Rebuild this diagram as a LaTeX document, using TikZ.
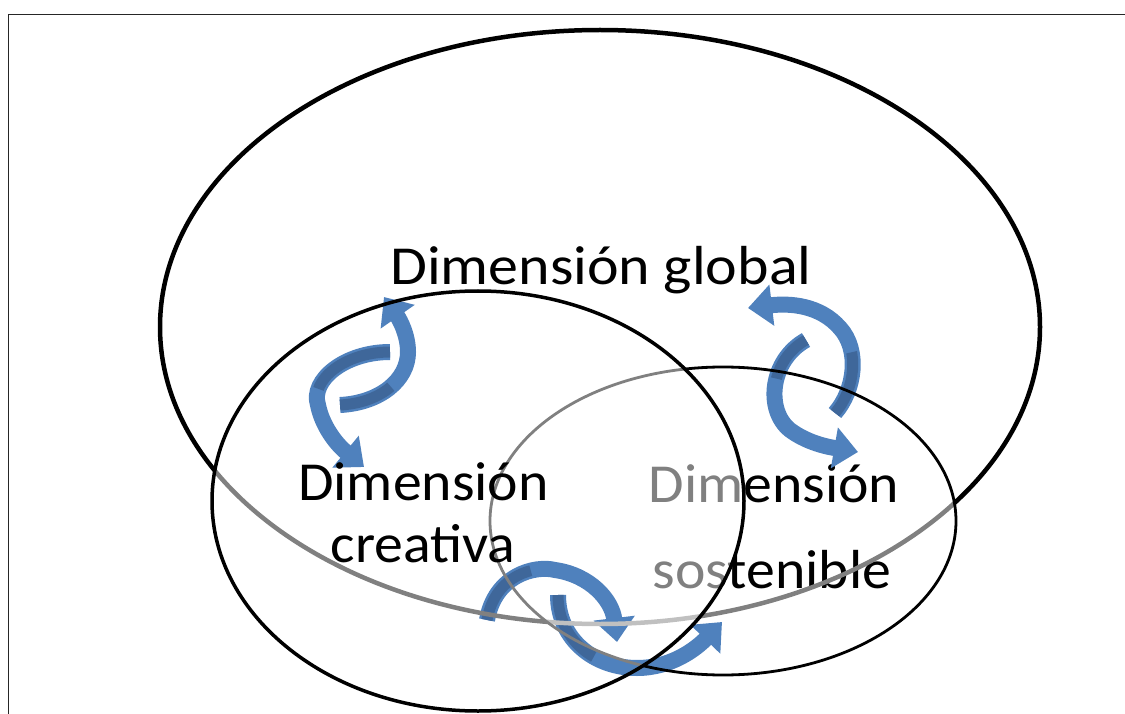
\documentclass[tikz,border=0pt]{standalone}
\usepackage{fontspec}
\setmainfont{Carlito}
\usetikzlibrary{arrows.meta}
\definecolor{arrowblue}{HTML}{4F81BD}
\definecolor{arrowdark}{HTML}{3F679A}
\definecolor{midgray}{HTML}{808080}
\definecolor{palegray}{HTML}{C0C0C0}
\begin{document}
\begin{tikzpicture}[x=1pt,y=-1pt,
  lbl/.style={font=\fontsize{55}{60}\selectfont, inner sep=0pt, anchor=base},
  cyc/.style={line width=16pt, draw=arrowblue, -{Triangle[width=40pt,length=24pt]}},
  cycdark/.style={line width=11pt, draw=arrowdark, dash pattern=on #1 off 3000pt},
]
\useasboundingbox (0,0) rectangle (1125,714);
\def\globalE{(600,327) ellipse [x radius=440, y radius=297]}
\def\creatE{(478,501) ellipse [x radius=266, y radius=210]}
\def\sustE{(723,521) ellipse [x radius=233, y radius=154]}
\def\bigR{(-50,-50) rectangle (1200,800)}

% frame
\draw[line width=1.3pt, draw=black!85] (8.3,714) -- (8.3,14.5) -- (1125,14.5);

% sustainable text (under the creative veil)
\node[lbl] (sostA) at (774,502) {\scalebox{1.05}[1]{Dimensión}};
\node[lbl] (sostB) at (772,588) {\scalebox{1.05}[1]{sostenible}};

% translucent veil of the creative circle
\fill[white, opacity=0.5] \creatE;

% cyclic arrows
\draw[cyc] (390,352) .. controls (345,352) and (310,380) .. (318,405) .. controls (322,425) and (335,443) .. (364,467);
\draw[cycdark=85pt] (390,352) .. controls (345,352) and (310,380) .. (318,405) .. controls (322,425) and (335,443) .. (364,467);
\draw[cyc] (340,405) .. controls (380,403) and (408,380) .. (408,352) .. controls (408,335) and (400,320) .. (384,297);
\draw[cycdark=55pt] (340,405) .. controls (380,403) and (408,380) .. (408,352) .. controls (408,335) and (400,320) .. (384,297);

\draw[cyc] (806,340) .. controls (770,360) and (765,410) .. (790,430) .. controls (810,445) and (835,448) .. (858,452);
\draw[cycdark=50pt] (806,340) .. controls (770,360) and (765,410) .. (790,430) .. controls (810,445) and (835,448) .. (858,452);
\draw[cyc] (835,413) .. controls (855,390) and (860,350) .. (840,328) .. controls (820,305) and (790,303) .. (748,308);
\draw[cycdark=65pt] (835,413) .. controls (855,390) and (860,350) .. (840,328) .. controls (820,305) and (790,303) .. (748,308);

\draw[cyc] (487,620) .. controls (495,575) and (535,565) .. (555,570) .. controls (590,575) and (612,600) .. (617,642);
\draw[cycdark=70pt] (487,620) .. controls (495,575) and (535,565) .. (555,570) .. controls (590,575) and (612,600) .. (617,642);
\draw[cyc] (558,595) .. controls (558,640) and (595,668) .. (637,668) .. controls (670,668) and (695,650) .. (722,622);
\draw[cycdark=75pt] (558,595) .. controls (558,640) and (595,668) .. (637,668) .. controls (670,668) and (695,650) .. (722,622);

% global ellipse outline, toned where covered
\begin{scope}[even odd rule]
  \clip \bigR \sustE;
  \clip \bigR \creatE;
  \draw[line width=4.5pt] \globalE;
\end{scope}
\begin{scope}[even odd rule]
  \clip \sustE;
  \clip \bigR \creatE;
  \draw[line width=4.5pt, midgray] \globalE;
\end{scope}
\begin{scope}[even odd rule]
  \clip \creatE;
  \clip \bigR \sustE;
  \draw[line width=4.5pt, midgray] \globalE;
\end{scope}
\begin{scope}
  \clip \creatE;
  \clip \sustE;
  \draw[line width=4.5pt, palegray] \globalE;
\end{scope}

% sustainable outline
\begin{scope}[even odd rule]
  \clip \bigR \creatE;
  \draw[line width=2.8pt] \sustE;
\end{scope}
\begin{scope}
  \clip \creatE;
  \draw[line width=2.8pt, midgray] \sustE;
\end{scope}

% creative outline
\draw[line width=3.5pt] \creatE;

% labels
\node[lbl] (glob) at (601,285) {\scalebox{1.09}[1]{Dimensión global}};
\node[lbl] (creaA) at (423.5,500) {\scalebox{1.05}[1]{Dimensión}};
\node[lbl] (creaB) at (423,562) {\scalebox{1.05}[1]{creativa}};
\end{tikzpicture}
\end{document}
